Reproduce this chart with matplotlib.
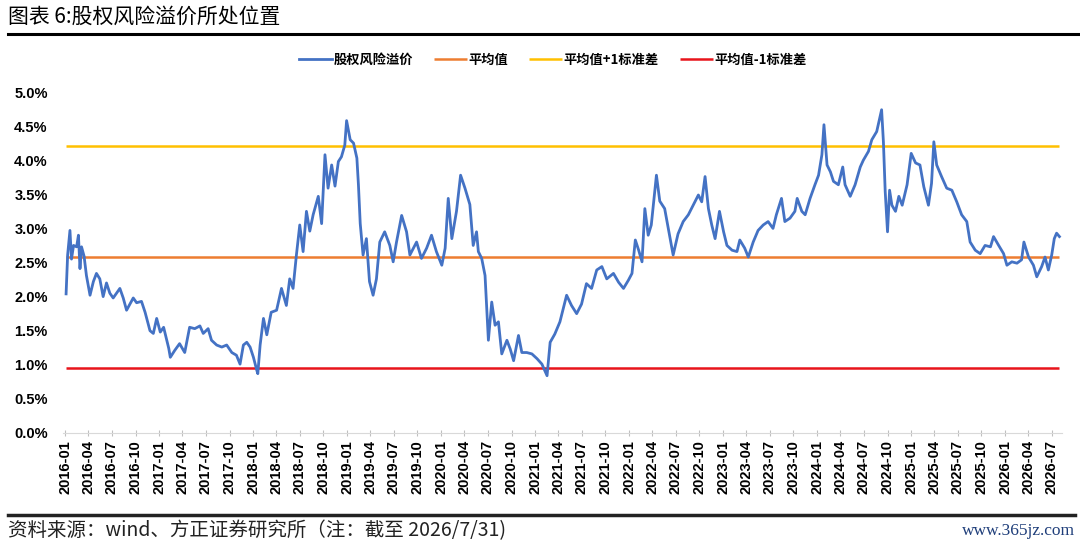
import numpy as np
import pandas as pd
import matplotlib
matplotlib.use('Agg')
import matplotlib.pyplot as plt
import matplotlib.dates as mdates
from matplotlib.ticker import FuncFormatter

plt.rcParams['font.family'] = ['Liberation Sans', 'Noto Sans CJK SC', 'DejaVu Sans']

# 股权风险溢价 (%)
dates = [
    '2016-01-05', '2016-01-11', '2016-01-20', '2016-01-26', '2016-02-03', '2016-02-15', '2016-02-22', '2016-02-28',
    '2016-03-05', '2016-03-15', '2016-03-24', '2016-04-07', '2016-04-20', '2016-05-02', '2016-05-15', '2016-05-28',
    '2016-06-10', '2016-06-23', '2016-07-06', '2016-08-01', '2016-08-14', '2016-08-27', '2016-09-22', '2016-10-05',
    '2016-10-24', '2016-11-07', '2016-11-26', '2016-12-09', '2016-12-22', '2017-01-05', '2017-01-18', '2017-02-07',
    '2017-02-13', '2017-03-02', '2017-03-21', '2017-04-10', '2017-04-29', '2017-05-19', '2017-06-08', '2017-06-21',
    '2017-07-10', '2017-07-23', '2017-08-12', '2017-09-01', '2017-09-20', '2017-10-10', '2017-10-28', '2017-11-11',
    '2017-11-24', '2017-12-07', '2017-12-20', '2018-01-02', '2018-01-15', '2018-01-19', '2018-01-28', '2018-02-10',
    '2018-02-23', '2018-03-12', '2018-04-02', '2018-04-21', '2018-05-10', '2018-05-23', '2018-06-05', '2018-06-18',
    '2018-07-01', '2018-07-14', '2018-07-27', '2018-08-09', '2018-08-22', '2018-09-11', '2018-09-24', '2018-10-07',
    '2018-10-19', '2018-11-02', '2018-11-15', '2018-11-28', '2018-12-10', '2018-12-23', '2018-12-30', '2019-01-13',
    '2019-01-26', '2019-02-08', '2019-02-14', '2019-02-21', '2019-03-04', '2019-03-17', '2019-03-29', '2019-04-12',
    '2019-04-25', '2019-05-08', '2019-05-27', '2019-06-16', '2019-06-29', '2019-07-12', '2019-08-01', '2019-08-20',
    '2019-09-02', '2019-09-28', '2019-10-17', '2019-11-06', '2019-11-25', '2019-12-14', '2020-01-04', '2020-01-17',
    '2020-01-29', '2020-02-12', '2020-03-01', '2020-03-17', '2020-04-03', '2020-04-10', '2020-04-22', '2020-05-05',
    '2020-05-18', '2020-05-25', '2020-06-07', '2020-06-20', '2020-07-03', '2020-07-16', '2020-07-29', '2020-08-11',
    '2020-08-24', '2020-09-13', '2020-09-26', '2020-10-09', '2020-10-28', '2020-11-10', '2020-11-29', '2020-12-19',
    '2021-01-08', '2021-01-27', '2021-02-16', '2021-02-28', '2021-03-18', '2021-04-07', '2021-05-03', '2021-05-22',
    '2021-06-11', '2021-06-30', '2021-07-19', '2021-08-08', '2021-08-28', '2021-09-17', '2021-10-06', '2021-11-01',
    '2021-11-21', '2021-12-10', '2021-12-29', '2022-01-12', '2022-01-25', '2022-02-07', '2022-02-20', '2022-03-03',
    '2022-03-16', '2022-03-28', '2022-04-17', '2022-04-30', '2022-05-19', '2022-06-02', '2022-06-21', '2022-07-10',
    '2022-07-30', '2022-08-19', '2022-09-08', '2022-09-27', '2022-10-10', '2022-10-23', '2022-11-05', '2022-11-18',
    '2022-12-01', '2022-12-18', '2023-01-03', '2023-01-16', '2023-02-05', '2023-02-24', '2023-03-07', '2023-03-26',
    '2023-04-09', '2023-04-28', '2023-05-17', '2023-06-06', '2023-06-25', '2023-07-14', '2023-07-27', '2023-08-16',
    '2023-08-29', '2023-09-18', '2023-10-07', '2023-10-16', '2023-11-03', '2023-11-16', '2023-12-05', '2023-12-24',
    '2024-01-07', '2024-01-20', '2024-01-28', '2024-02-09', '2024-02-22', '2024-03-05', '2024-03-24', '2024-04-10',
    '2024-04-19', '2024-05-09', '2024-05-28', '2024-06-17', '2024-06-29', '2024-07-19', '2024-08-01', '2024-08-20',
    '2024-09-08', '2024-09-15', '2024-09-22', '2024-10-01', '2024-10-09', '2024-10-18', '2024-11-01', '2024-11-14',
    '2024-11-27', '2024-12-16', '2025-01-01', '2025-01-18', '2025-02-04', '2025-02-19', '2025-03-09', '2025-03-21',
    '2025-03-30', '2025-04-10', '2025-04-29', '2025-05-19', '2025-06-08', '2025-06-27', '2025-07-16', '2025-08-05',
    '2025-08-18', '2025-09-07', '2025-09-26', '2025-10-15', '2025-11-05', '2025-11-17', '2025-12-07', '2025-12-26',
    '2026-01-08', '2026-01-27', '2026-02-16', '2026-03-06', '2026-03-15', '2026-04-02', '2026-04-21', '2026-05-04',
    '2026-05-23', '2026-06-05', '2026-06-18', '2026-07-01', '2026-07-11', '2026-07-20', '2026-07-31',
]
erp = [
    2.04, 2.61, 2.97, 2.55, 2.75, 2.73, 2.90, 2.41,
    2.73, 2.59, 2.31, 2.02, 2.22, 2.34, 2.26, 2.00,
    2.20, 2.05, 1.98, 2.12, 1.98, 1.80, 1.98, 1.91,
    1.93, 1.77, 1.50, 1.46, 1.68, 1.48, 1.55, 1.24,
    1.11, 1.21, 1.31, 1.18, 1.55, 1.53, 1.57, 1.46,
    1.53, 1.36, 1.29, 1.26, 1.29, 1.18, 1.14, 1.01,
    1.29, 1.33, 1.26, 1.11, 0.92, 0.87, 1.29, 1.68,
    1.44, 1.77, 1.80, 2.12, 1.87, 2.26, 2.12, 2.61,
    3.05, 2.66, 3.25, 2.96, 3.20, 3.47, 3.07, 4.08,
    3.59, 3.93, 3.62, 3.98, 4.05, 4.22, 4.58, 4.30,
    4.25, 4.03, 3.64, 3.07, 2.61, 2.85, 2.22, 2.02,
    2.26, 2.80, 2.95, 2.75, 2.51, 2.80, 3.19, 2.95,
    2.61, 2.80, 2.56, 2.71, 2.90, 2.66, 2.46, 2.71,
    3.44, 2.85, 3.25, 3.78, 3.59, 3.50, 3.35, 2.75,
    2.95, 2.66, 2.56, 2.31, 1.36, 1.92, 1.58, 1.63,
    1.16, 1.36, 1.23, 1.06, 1.43, 1.18, 1.18, 1.16,
    1.09, 1.01, 0.84, 1.33, 1.45, 1.63, 2.02, 1.87,
    1.75, 1.89, 2.19, 2.12, 2.39, 2.44, 2.26, 2.34,
    2.21, 2.12, 2.24, 2.34, 2.83, 2.68, 2.51, 3.29,
    2.90, 3.05, 3.78, 3.40, 3.29, 3.00, 2.61, 2.92,
    3.10, 3.20, 3.35, 3.49, 3.39, 3.76, 3.29, 3.05,
    2.85, 3.25, 2.95, 2.75, 2.68, 2.66, 2.83, 2.71,
    2.58, 2.80, 2.97, 3.05, 3.10, 3.00, 3.20, 3.44,
    3.10, 3.15, 3.25, 3.44, 3.25, 3.20, 3.44, 3.64,
    3.78, 4.08, 4.52, 3.93, 3.83, 3.69, 3.64, 3.90,
    3.64, 3.47, 3.64, 3.90, 4.00, 4.13, 4.30, 4.42,
    4.74, 4.27, 3.54, 2.95, 3.56, 3.34, 3.25, 3.47,
    3.34, 3.64, 4.10, 3.96, 3.93, 3.61, 3.34, 3.66,
    4.27, 3.93, 3.76, 3.59, 3.56, 3.39, 3.20, 3.10,
    2.80, 2.68, 2.63, 2.75, 2.73, 2.88, 2.75, 2.63,
    2.46, 2.51, 2.49, 2.54, 2.80, 2.58, 2.46, 2.29,
    2.44, 2.58, 2.39, 2.61, 2.85, 2.93, 2.88,
]
mean_val = 2.58
std_val = 1.63

labels = ['股权风险溢价', '平均值', '平均值+1标准差', '平均值-1标准差']
colors = ['#4472C4', '#ED7D31', '#FFC000', '#E8141B']

x = pd.to_datetime(dates)

fig = plt.figure(figsize=(10.8, 5.46), dpi=100)
ax = fig.add_axes([63/1080, 113/546, 999/1080, 341/546])

ax.plot(x, erp, color=colors[0], lw=2.0, label=labels[0], zorder=3)
ax.hlines(mean_val, x[0], x[-1], color=colors[1], lw=1.8, label=labels[1], zorder=2)
ax.hlines(mean_val + std_val, x[0], x[-1], color=colors[2], lw=1.8, label=labels[2], zorder=2)
ax.hlines(mean_val - std_val, x[0], x[-1], color=colors[3], lw=1.8, label=labels[3], zorder=2)

ax.set_ylim(0, 5.0)
ax.set_yticks(np.arange(0, 5.01, 0.5))
ax.yaxis.set_major_formatter(FuncFormatter(lambda v, p: '%.1f%%' % v))
ax.set_xlim(pd.Timestamp('2015-12-24'), pd.Timestamp('2026-08-10'))
ax.xaxis.set_major_locator(mdates.MonthLocator(bymonth=[1, 4, 7, 10]))
ax.xaxis.set_major_formatter(mdates.DateFormatter('%Y-%m'))

for s in ['top', 'right', 'left']:
    ax.spines[s].set_visible(False)
ax.spines['bottom'].set_color('#D9D9D9')
ax.tick_params(axis='y', length=0, pad=11, labelsize=10.5)
ax.tick_params(axis='x', length=4, color='#BFBFBF', direction='inout', labelsize=10.5, pad=3)
for t in ax.get_yticklabels():
    t.set_fontweight('bold')
for t in ax.get_xticklabels():
    t.set_fontweight('bold')
    t.set_rotation(90)

leg = fig.legend(loc='center', bbox_to_anchor=(0.512, 0.89), ncol=4, frameon=False,
                 handlelength=2.5, columnspacing=1.6, handletextpad=0.1,
                 prop={'family': ['Noto Sans CJK SC'], 'weight': 'bold', 'size': 9.5})

# title, rules and footer
fig.text(8/1080, 1 - 17/546, '图表 6:股权风险溢价所处位置', fontsize=15, va='center', ha='left',
         family=['Noto Sans CJK SC', 'DejaVu Sans'])
fig.add_artist(plt.Line2D([8/1080, 1.0], [1 - 34/546] * 2, color='black', lw=2.2))
fig.add_artist(plt.Line2D([8/1080, 1075/1080], [1 - 515/546] * 2, color='#222222', lw=2.5))
fig.text(8/1080, 1 - 531/546, '资料来源：wind、方正证券研究所（注：截至 2026/7/31)', fontsize=14,
         va='center', ha='left', style='italic', color='#222222',
         family=['Noto Sans CJK SC', 'DejaVu Sans'])
fig.text(1075/1080, 1 - 531/546, 'www.365jz.com', fontsize=12.5, va='center', ha='right',
         color='#1F3E7A', family=['Liberation Serif'])

fig.savefig('out.png', dpi=100)
